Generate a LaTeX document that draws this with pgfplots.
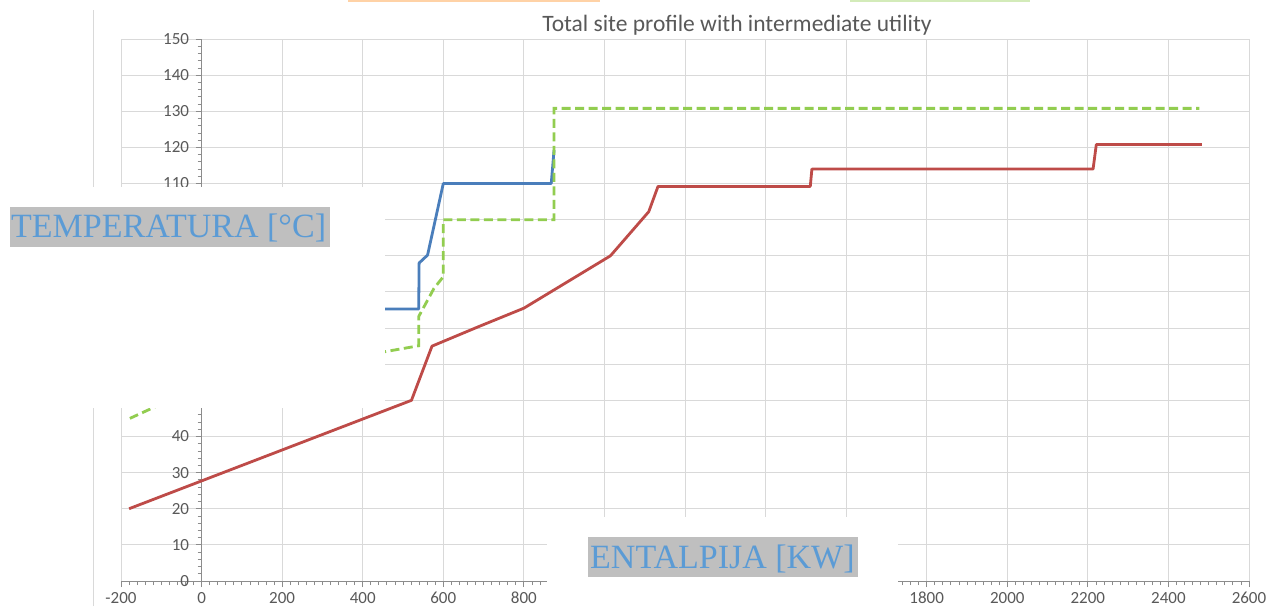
\documentclass[border=0pt]{standalone}
\usepackage{fontspec}
\setmainfont{Carlito}
\newfontfamily\tnr{Liberation Serif}
\usepackage{pgfplots}
\pgfplotsset{compat=1.18}
\definecolor{gridgray}{RGB}{217,217,217}
\definecolor{axgray}{RGB}{140,140,140}
\definecolor{labgray}{RGB}{89,89,89}
\definecolor{boxgray}{RGB}{191,191,191}
\definecolor{txtblue}{RGB}{91,155,213}
\definecolor{lineBlue}{RGB}{74,126,187}
\definecolor{lineRed}{RGB}{190,75,72}
\definecolor{lineGreen}{RGB}{146,205,80}

\begin{document}
\begin{tikzpicture}[x=1pt,y=1pt]
\fill[white] (0,0) rectangle (1268,606);
\useasboundingbox (0,0) rectangle (1268,606);
% chart frame remnant
\draw[gridgray, line width=1pt] (93,0) -- (93,596);
% cut-off legend remnants
\draw[orange!35, line width=1.5pt] (348,605) -- (600,605);
\draw[lineGreen!40, line width=1.5pt] (850,605) -- (1030,605);

\begin{axis}[
    at={(121pt,25pt)}, anchor=south west,
    width=1128pt, height=542pt, scale only axis,
    xmin=-200, xmax=2600, ymin=0, ymax=150,
    xtick={-200,0,...,2600},
    xticklabels={-200,0,200,400,600,800,,,,,1800,2000,2200,2400,2600},
    ytick={0,10,...,150},
    yticklabels={0,10,20,30,40,,,,,,,110,120,130,140,150},
    minor x tick num=9, minor y tick num=4,
    grid=major,
    major grid style={gridgray, line width=0.9pt},
    axis x line*=bottom, axis y line*=middle,
    hide obscured x ticks=false, hide obscured y ticks=false,
    axis line style={axgray, line width=1pt},
    every tick/.style={axgray, line width=0.8pt},
    tick align=outside,
    major tick length=6pt, minor tick length=4pt,
    tick label style={font=\fontsize{17}{19}\selectfont, text=labgray},
    yticklabel style={xshift=-3pt},
    xticklabel style={yshift=-1.5pt},
    /pgf/number format/assume math mode=true,
    clip=false,
]
\addplot[lineRed, line width=2.8pt, line join=round] coordinates {
    (-180,20) (521,50) (572,65) (690,70.5) (800,75.5) (1015,90)
    (1110,102.2) (1133,109.2) (1511,109.2) (1515,114) (2213,114)
    (2221,120.8) (2483,120.8)
};
\addplot[lineBlue, line width=2.8pt, line join=round] coordinates {
    (300,75.3) (539,75.3) (540,88) (561,90.2) (600,110) (868,110) (875,119.3)
};
\addplot[lineGreen, line width=2.8pt, dash pattern=on 9pt off 4.5pt] coordinates {
    (-178,45) (-100,49) (100,55) (300,60) (457,63.5) (539,65.1) (539,73.2)
    (577,81) (600,84.2) (600,100) (875,100) (875,130.8) (2477,130.8)
};
\end{axis}

% white cover boxes
\fill[white] (0,198) rectangle (385,419);
\fill[white] (547,0) rectangle (898,89);

% overlaid axis titles
\fill[boxgray] (10,359) rectangle (330,399);
\node[anchor=base west, inner sep=0pt, text=txtblue, font=\tnr\fontsize{34}{40}\selectfont] at (11,368) {TEMPERATURA [°C]};
\fill[boxgray] (588,29) rectangle (858,69);
\node[anchor=base west, inner sep=0pt, text=txtblue, font=\tnr\fontsize{34}{40}\selectfont] at (590,38) {ENTALPIJA [KW]};

% title
\node[text=labgray, font=\fontsize{23.5}{27}\selectfont] at (737,581) {Total site profile with intermediate utility};
\end{tikzpicture}
\end{document}
